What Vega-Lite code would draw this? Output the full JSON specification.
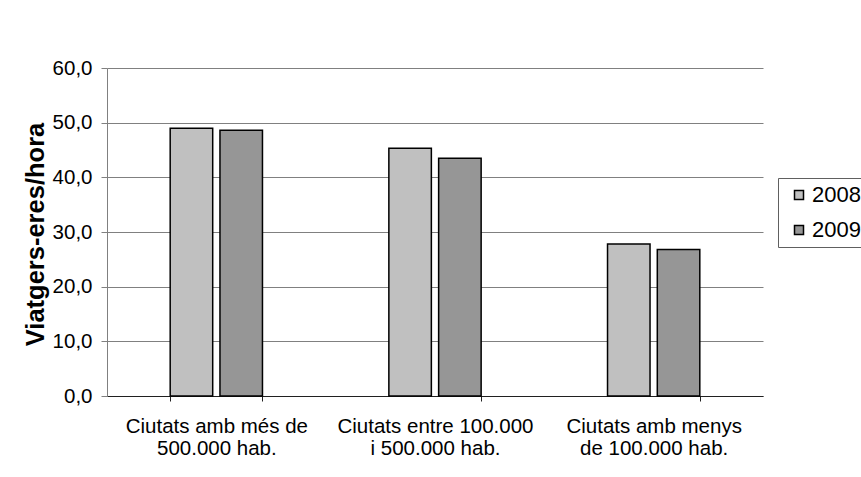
{
  "$schema": "https://vega.github.io/schema/vega-lite/v6.json",
  "width": 656,
  "height": 328,
  "autosize": {"type": "none"},
  "padding": {"left": 107, "top": 68, "right": 98, "bottom": 81},
  "background": "white",
  "config": {
    "font": "Liberation Sans",
    "view": {"stroke": null},
    "axis": {"labelFont": "Liberation Sans", "titleFont": "Liberation Sans"},
    "legend": {"labelFont": "Liberation Sans"}
  },
  "data": {
    "values": [
      {"ciutat": "Ciutats amb més de 500.000 hab.", "any": "2008", "valor": 49.0},
      {"ciutat": "Ciutats amb més de 500.000 hab.", "any": "2009", "valor": 48.6},
      {"ciutat": "Ciutats entre 100.000 i 500.000 hab.", "any": "2008", "valor": 45.3},
      {"ciutat": "Ciutats entre 100.000 i 500.000 hab.", "any": "2009", "valor": 43.5},
      {"ciutat": "Ciutats amb menys de 100.000 hab.", "any": "2008", "valor": 27.8},
      {"ciutat": "Ciutats amb menys de 100.000 hab.", "any": "2009", "valor": 26.8}
    ]
  },
  "mark": {"type": "bar", "stroke": "black", "strokeWidth": 1.5},
  "encoding": {
    "x": {
      "field": "ciutat",
      "type": "nominal",
      "sort": null,
      "scale": {"paddingInner": 0.578, "paddingOuter": 0.289},
      "axis": {
        "title": null,
        "labelAngle": 0,
        "labelFontSize": 20.5,
        "labelColor": "black",
        "labelLineHeight": 22,
        "labelPadding": 15,
        "labelBaseline": "top",
        "labelLimit": 0,
        "tickBand": "extent",
        "tickSize": 5,
        "tickColor": "#202020",
        "domainColor": "#202020",
        "labelExpr": "datum.label == 'Ciutats amb més de 500.000 hab.' ? ['Ciutats amb més de', '500.000 hab.'] : datum.label == 'Ciutats entre 100.000 i 500.000 hab.' ? ['Ciutats entre 100.000', 'i 500.000 hab.'] : datum.label == 'Ciutats amb menys de 100.000 hab.' ? ['Ciutats amb menys', 'de 100.000 hab.'] : ''"
      }
    },
    "xOffset": {
      "field": "any",
      "type": "nominal",
      "scale": {"paddingInner": 0.146, "paddingOuter": 0}
    },
    "y": {
      "field": "valor",
      "type": "quantitative",
      "scale": {"domain": [0, 60], "nice": false},
      "axis": {
        "values": [0, 10, 20, 30, 40, 50, 60],
        "labelExpr": "replace(format(datum.value, '.1f'), '.', ',')",
        "labelFontSize": 20.5,
        "labelColor": "black",
        "labelPadding": 9,
        "tickSize": 6,
        "tickColor": "#808080",
        "domainColor": "#808080",
        "gridColor": "#808080",
        "gridOpacity": 1,
        "title": "Viatgers-eres/hora",
        "titleFontSize": 25.5,
        "titleFontWeight": "bold",
        "titleColor": "black",
        "titleAngle": 270,
        "titleX": -72,
        "titleY": 166,
        "titleAlign": "center",
        "titleBaseline": "middle"
      }
    },
    "fill": {
      "field": "any",
      "type": "nominal",
      "scale": {"domain": ["2008", "2009"], "range": ["#C0C0C0", "#969696"]},
      "legend": {
        "title": null,
        "orient": "none",
        "legendX": 671,
        "legendY": 110,
        "strokeColor": "#606060",
        "padding": 6,
        "symbolType": "square",
        "symbolSize": 81,
        "symbolOffset": 4,
        "symbolStrokeColor": "black",
        "symbolStrokeWidth": 1.5,
        "labelFontSize": 22,
        "labelOffset": 2,
        "labelColor": "black",
        "rowPadding": 13,
        "fillColor": "white"
      }
    }
  }
}
